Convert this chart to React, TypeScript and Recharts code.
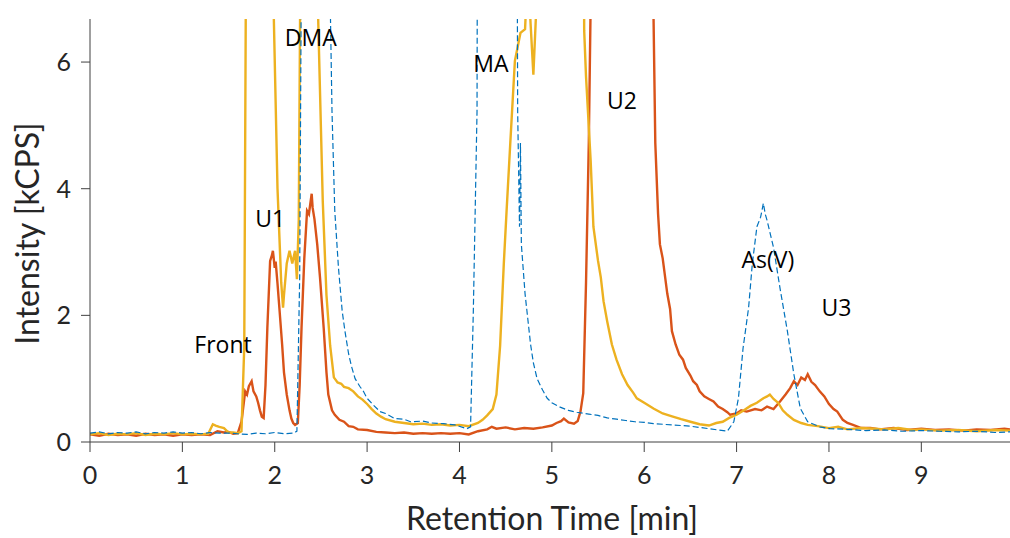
import React from 'react';
import { LineChart, Line, XAxis, YAxis, ReferenceDot } from 'recharts';

// Retention time [min] and intensity [kCPS] per trace
const redT = [0, 0.1, 0.2, 0.3, 0.4, 0.5, 0.6, 0.7, 0.8, 0.9, 1.0, 1.1, 1.2, 1.3, 1.38, 1.45, 1.5, 1.55, 1.6, 1.64, 1.68, 1.7, 1.72, 1.75, 1.77, 1.8, 1.82, 1.84, 1.86, 1.88, 1.9, 1.92, 1.95, 1.97, 1.98, 2.0, 2.01, 2.03, 2.05, 2.08, 2.1, 2.13, 2.16, 2.18, 2.2, 2.22, 2.25, 2.27, 2.29, 2.32, 2.35, 2.37, 2.4, 2.41, 2.43, 2.46, 2.49, 2.53, 2.56, 2.58, 2.62, 2.65, 2.7, 2.75, 2.8, 2.85, 2.9, 3.0, 3.1, 3.2, 3.3, 3.4, 3.5, 3.6, 3.7, 3.8, 3.9, 4.0, 4.1, 4.2, 4.3, 4.35, 4.4, 4.5, 4.6, 4.7, 4.8, 4.9, 5.0, 5.05, 5.1, 5.13, 5.18, 5.24, 5.28, 5.31, 5.34, 5.37, 5.4, 5.43, 5.46, 6.08, 6.1, 6.12, 6.15, 6.17, 6.2, 6.25, 6.28, 6.3, 6.34, 6.38, 6.42, 6.45, 6.5, 6.53, 6.57, 6.6, 6.65, 6.7, 6.75, 6.8, 6.85, 6.9, 6.93, 7.0, 7.05, 7.11, 7.2, 7.27, 7.33, 7.4, 7.47, 7.53, 7.58, 7.62, 7.66, 7.7, 7.74, 7.77, 7.81, 7.85, 7.9, 7.95, 8.0, 8.05, 8.09, 8.15, 8.2, 8.26, 8.35, 8.45, 8.55, 8.7, 8.85, 9.0, 9.15, 9.3, 9.45, 9.6, 9.75, 9.9, 9.96];
const redV = [0.12, 0.1, 0.13, 0.11, 0.12, 0.1, 0.13, 0.11, 0.12, 0.1, 0.12, 0.11, 0.12, 0.11, 0.17, 0.15, 0.16, 0.13, 0.14, 0.32, 0.8, 0.75, 0.88, 0.96, 0.8, 0.72, 0.62, 0.5, 0.4, 0.38, 0.9, 1.8, 2.86, 2.95, 3.02, 2.75, 2.85, 2.5, 2.12, 1.54, 1.1, 0.75, 0.5, 0.37, 0.3, 0.27, 0.3, 0.9, 1.8, 2.9, 3.65, 3.6, 3.92, 3.7, 3.52, 3.12, 2.6, 1.8, 1.1, 0.75, 0.5, 0.43, 0.35, 0.32, 0.25, 0.24, 0.2, 0.19, 0.16, 0.15, 0.14, 0.15, 0.13, 0.14, 0.13, 0.14, 0.13, 0.14, 0.12, 0.17, 0.2, 0.24, 0.21, 0.23, 0.2, 0.22, 0.21, 0.23, 0.26, 0.3, 0.33, 0.37, 0.31, 0.29, 0.33, 0.48, 0.77, 2.52, 4.72, 8, 20, 20, 6.8, 4.72, 3.6, 3.12, 2.9, 2.34, 2.1, 1.75, 1.54, 1.38, 1.3, 1.17, 1.05, 0.96, 0.9, 0.8, 0.72, 0.68, 0.64, 0.56, 0.52, 0.47, 0.43, 0.45, 0.5, 0.48, 0.52, 0.5, 0.56, 0.52, 0.64, 0.75, 0.85, 0.96, 0.9, 1.02, 0.98, 1.07, 0.95, 0.9, 0.8, 0.72, 0.6, 0.52, 0.48, 0.35, 0.3, 0.27, 0.22, 0.22, 0.2, 0.22, 0.19, 0.21, 0.19, 0.2, 0.18, 0.2, 0.19, 0.21, 0.2];

const yellowT = [0, 0.1, 0.2, 0.3, 0.4, 0.5, 0.6, 0.7, 0.8, 0.9, 1.0, 1.1, 1.2, 1.28, 1.33, 1.36, 1.4, 1.45, 1.5, 1.55, 1.6, 1.64, 1.67, 1.69, 1.72, 1.95, 1.99, 2.03, 2.07, 2.09, 2.1, 2.13, 2.16, 2.19, 2.22, 2.24, 2.26, 2.28, 2.3, 2.44, 2.47, 2.52, 2.56, 2.6, 2.64, 2.68, 2.72, 2.75, 2.8, 2.85, 2.9, 2.95, 3.0, 3.05, 3.1, 3.15, 3.2, 3.3, 3.4, 3.5, 3.6, 3.7, 3.8, 3.9, 4.0, 4.1, 4.2, 4.25, 4.3, 4.36, 4.4, 4.44, 4.48, 4.51, 4.55, 4.6, 4.66, 4.71, 4.74, 4.77, 4.8, 4.83, 4.86, 5.32, 5.35, 5.37, 5.42, 5.45, 5.5, 5.53, 5.56, 5.6, 5.65, 5.7, 5.76, 5.82, 5.88, 5.92, 6.0, 6.1, 6.2, 6.31, 6.4, 6.5, 6.6, 6.7, 6.78, 6.85, 6.92, 7.0, 7.08, 7.15, 7.22, 7.29, 7.33, 7.36, 7.4, 7.45, 7.5, 7.55, 7.62, 7.7, 7.77, 7.88, 8.0, 8.1, 8.2, 8.35, 8.5, 8.6, 8.75, 8.9, 9.0, 9.2, 9.4, 9.6, 9.8, 9.96];
const yellowV = [0.12, 0.14, 0.11, 0.13, 0.12, 0.14, 0.11, 0.13, 0.12, 0.14, 0.12, 0.13, 0.12, 0.13, 0.28, 0.26, 0.24, 0.22, 0.15, 0.15, 0.14, 0.17, 1.5, 8, 20, 20, 6.7, 4.0, 2.52, 2.12, 2.32, 2.82, 3.02, 2.82, 3.02, 2.57, 3.5, 8, 20, 20, 6.7, 3.8, 2.32, 1.52, 1.02, 0.94, 0.92, 0.87, 0.85, 0.8, 0.72, 0.67, 0.6, 0.52, 0.45, 0.4, 0.36, 0.32, 0.3, 0.28, 0.29, 0.27, 0.28, 0.26, 0.27, 0.25, 0.3, 0.35, 0.42, 0.52, 0.75, 1.52, 2.82, 3.65, 4.72, 6.02, 6.46, 6.52, 7.5, 6.6, 5.8, 6.8, 20, 20, 6.5, 5.77, 4.45, 3.4, 2.86, 2.6, 2.22, 1.9, 1.54, 1.3, 1.07, 0.9, 0.78, 0.69, 0.62, 0.53, 0.45, 0.4, 0.36, 0.32, 0.28, 0.26, 0.3, 0.32, 0.38, 0.43, 0.5, 0.57, 0.62, 0.69, 0.72, 0.75, 0.68, 0.62, 0.5, 0.43, 0.35, 0.3, 0.27, 0.25, 0.22, 0.24, 0.2, 0.22, 0.21, 0.2, 0.22, 0.19, 0.2, 0.18, 0.19, 0.17, 0.19, 0.18];

const blueT = [0, 0.1, 0.2, 0.3, 0.4, 0.5, 0.6, 0.7, 0.8, 0.9, 1.0, 1.1, 1.2, 1.3, 1.4, 1.5, 1.6, 1.7, 1.8, 1.9, 2.0, 2.1, 2.2, 2.24, 2.27, 2.29, 2.31, 2.58, 2.6, 2.62, 2.65, 2.69, 2.73, 2.76, 2.8, 2.83, 2.87, 2.92, 2.96, 3.0, 3.07, 3.14, 3.2, 3.3, 3.4, 3.47, 3.6, 3.7, 3.83, 3.95, 4.08, 4.12, 4.15, 4.19, 4.21, 4.6, 4.63, 4.65, 4.66, 4.67, 4.71, 4.77, 4.8, 4.84, 4.9, 4.95, 5.0, 5.09, 5.18, 5.27, 5.4, 5.5, 5.6, 5.7, 5.8, 5.9, 6.0, 6.1, 6.2, 6.3, 6.4, 6.5, 6.6, 6.7, 6.8, 6.9, 6.97, 7.02, 7.07, 7.13, 7.17, 7.22, 7.26, 7.29, 7.31, 7.33, 7.4, 7.47, 7.55, 7.62, 7.69, 7.77, 7.9, 8.01, 8.2, 8.4, 8.6, 8.8, 9.0, 9.2, 9.4, 9.6, 9.8, 9.96];
const blueV = [0.14, 0.16, 0.13, 0.15, 0.14, 0.16, 0.13, 0.15, 0.14, 0.16, 0.14, 0.15, 0.13, 0.15, 0.14, 0.14, 0.13, 0.12, 0.14, 0.13, 0.15, 0.13, 0.14, 0.17, 2.6, 8, 20, 20, 7.0, 5.22, 3.65, 2.75, 2.07, 1.75, 1.39, 1.2, 1.0, 0.88, 0.8, 0.69, 0.58, 0.48, 0.45, 0.37, 0.36, 0.32, 0.33, 0.3, 0.29, 0.27, 0.21, 0.24, 2.07, 5.22, 20, 20, 5.22, 3.4, 4.72, 3.12, 2.34, 1.54, 1.25, 1.0, 0.82, 0.69, 0.62, 0.55, 0.5, 0.47, 0.44, 0.42, 0.38, 0.36, 0.34, 0.32, 0.31, 0.29, 0.28, 0.27, 0.26, 0.25, 0.23, 0.21, 0.19, 0.17, 0.32, 0.69, 1.48, 2.12, 2.81, 3.4, 3.55, 3.77, 3.6, 3.5, 3.07, 2.43, 1.75, 1.07, 0.53, 0.32, 0.24, 0.21, 0.2, 0.18, 0.19, 0.17, 0.18, 0.17, 0.16, 0.17, 0.15, 0.16];

const xTicks = [0, 1, 2, 3, 4, 5, 6, 7, 8, 9];
const yTicks = [0, 2, 4, 6];

const peakNames = ['Front', 'U1', 'DMA', 'MA', 'U2', 'As(V)', 'U3'];
const peakT = [1.44, 1.95, 2.39, 4.34, 5.76, 7.34, 8.08];
const peakV = [1.53, 3.52, 6.38, 5.97, 5.39, 2.88, 2.12];

const toPoints = (ts: number[], vs: number[]) => ts.map((t, i) => ({ t, v: vs[i] }));
const redData = toPoints(redT, redV);
const yellowData = toPoints(yellowT, yellowV);
const blueData = toPoints(blueT, blueV);

const AXIS = '#404040';
const TEXT = '#262626';
const TICK_FONT = { fontFamily: 'Lato, sans-serif', fontSize: 25, fill: TEXT };

export default function App() {
  return (
    <div style={{ position: 'absolute', left: 0, top: 0 }}>
      <LineChart width={1010} height={538} margin={{ top: 19, right: 0, bottom: 0, left: 0 }}>
        <XAxis
          type="number"
          dataKey="t"
          domain={[0, 9.96]}
          ticks={xTicks}
          allowDataOverflow
          tickSize={10}
          tickMargin={14}
          height={96}
          stroke={AXIS}
          tick={TICK_FONT}
          tickLine={{ stroke: AXIS }}
          label={(p: any) => {
            const vb = p.viewBox;
            return (
              <text x={vb.x + vb.width / 2 + 2} y={vb.y + 88} textAnchor="middle" fontFamily="Lato, sans-serif" fontSize={32} fill={TEXT}>
                Retention Time [min]
              </text>
            );
          }}
        />
        <YAxis
          type="number"
          dataKey="v"
          domain={[0, 6.68]}
          ticks={yTicks}
          allowDataOverflow
          width={90}
          tickSize={9}
          tickMargin={10}
          stroke={AXIS}
          tick={TICK_FONT}
          tickLine={{ stroke: AXIS }}
          label={(p: any) => {
            const vb = p.viewBox;
            const cx = 39;
            const cy = vb.y + vb.height / 2 + 3;
            return (
              <text x={cx} y={cy} transform={`rotate(-90 ${cx} ${cy})`} textAnchor="middle" fontFamily="Lato, sans-serif" fontSize={32} fill={TEXT}>
                Intensity [kCPS]
              </text>
            );
          }}
        />
        <Line data={redData} dataKey="v" type="linear" stroke="#D95319" strokeWidth={2.4} dot={false} isAnimationActive={false} />
        <Line data={yellowData} dataKey="v" type="linear" stroke="#EDB120" strokeWidth={2.4} dot={false} isAnimationActive={false} />
        <Line data={blueData} dataKey="v" type="linear" stroke="#0072BD" strokeWidth={1.2} strokeDasharray="6 3" dot={false} isAnimationActive={false} />
        {peakNames.map((name, i) => (
          <ReferenceDot
            key={name}
            x={peakT[i]}
            y={peakV[i]}
            r={0}
            fill="none"
            stroke="none"
            label={{ value: name, position: 'center', fontFamily: '"Open Sans", sans-serif', fontSize: 23, fill: '#000' }}
          />
        ))}
      </LineChart>
    </div>
  );
}
